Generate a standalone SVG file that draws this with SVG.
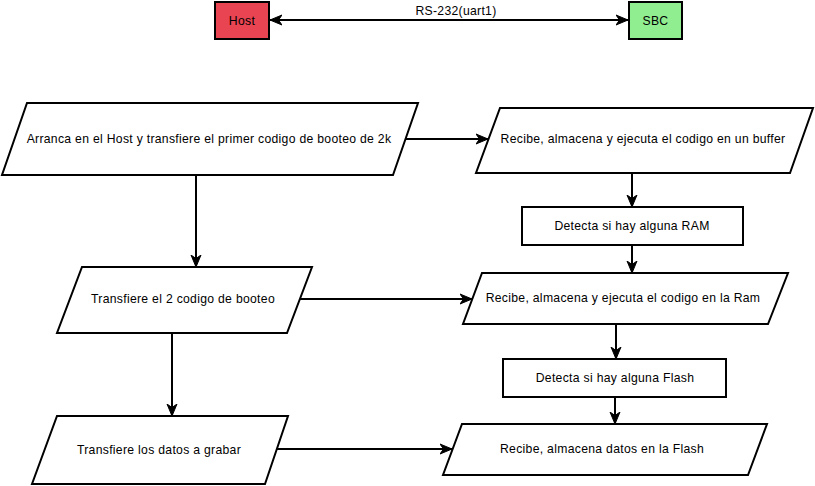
<svg xmlns="http://www.w3.org/2000/svg" width="815" height="486" viewBox="0 0 815 486">
<style>
  .shape { fill: #ffffff; stroke: #000000; stroke-width: 2; }
  .conn { fill: none; stroke: #000000; stroke-width: 2; }
  text { font-family: "Liberation Sans", Arial, sans-serif; font-size: 12.2px; letter-spacing: 0.3px; fill: #000000; text-anchor: middle; dominant-baseline: central; }
</style>
<defs>
  <marker id="arrowEnd" markerUnits="userSpaceOnUse" markerWidth="14" markerHeight="12" viewBox="0 0 14 12" refX="12" refY="6" orient="auto">
    <path d="M0,1 L12,6 L0,11 L3.5,6 Z" fill="#000000" stroke="#000000" stroke-width="1"/>
  </marker>
  <marker id="arrowStart" markerUnits="userSpaceOnUse" markerWidth="14" markerHeight="12" viewBox="0 0 14 12" refX="12" refY="6" orient="auto-start-reverse">
    <path d="M0,1 L12,6 L0,11 L3.5,6 Z" fill="#000000" stroke="#000000" stroke-width="1"/>
  </marker>
</defs>
<rect width="815" height="486" fill="#ffffff"/>

<g id="connectors">
  <line class="conn" x1="270" y1="20" x2="628" y2="20" marker-start="url(#arrowStart)" marker-end="url(#arrowEnd)"/>
  <line class="conn" x1="405" y1="139" x2="488" y2="139" marker-end="url(#arrowEnd)"/>
  <line class="conn" x1="196" y1="175" x2="196" y2="267" marker-end="url(#arrowEnd)"/>
  <line class="conn" x1="632" y1="173" x2="632" y2="207" marker-end="url(#arrowEnd)"/>
  <line class="conn" x1="632" y1="245" x2="632" y2="273" marker-end="url(#arrowEnd)"/>
  <line class="conn" x1="300" y1="299" x2="472" y2="299" marker-end="url(#arrowEnd)"/>
  <line class="conn" x1="616" y1="324" x2="616" y2="359" marker-end="url(#arrowEnd)"/>
  <line class="conn" x1="615" y1="397" x2="615" y2="424" marker-end="url(#arrowEnd)"/>
  <line class="conn" x1="172" y1="333" x2="172" y2="416" marker-end="url(#arrowEnd)"/>
  <line class="conn" x1="276" y1="449" x2="452" y2="449" marker-end="url(#arrowEnd)"/>
  <text x="456" y="11">RS-232(uart1)</text>
</g>

<g id="host">
  <rect x="215" y="2" width="54" height="37" fill="#e94452" stroke="#000000" stroke-width="2"/>
  <text x="242" y="20.5">Host</text>
</g>
<g id="sbc">
  <rect x="629" y="2" width="53" height="37" fill="#90ee90" stroke="#000000" stroke-width="2"/>
  <text x="655.5" y="20.5">SBC</text>
</g>

<g id="arranca">
  <polygon class="shape" points="27,103 418,103 393,175 2,175"/>
  <text x="209" y="139">Arranca en el Host y transfiere el primer codigo de booteo de 2k</text>
</g>
<g id="recibe-buffer">
  <polygon class="shape" points="500,108 813,108 790,173 476,173"/>
  <text x="643" y="139">Recibe, almacena y ejecuta el codigo en un buffer</text>
</g>
<g id="detecta-ram">
  <rect class="shape" x="522" y="207" width="221" height="38"/>
  <text x="632" y="226">Detecta si hay alguna RAM</text>
</g>
<g id="transfiere-2">
  <polygon class="shape" points="82,267 312,267 287,333 57,333"/>
  <text x="183" y="299">Transfiere el 2 codigo de booteo</text>
</g>
<g id="recibe-ram">
  <polygon class="shape" points="482,273 788,273 768,324 463,324"/>
  <text x="623" y="298">Recibe, almacena y ejecuta el codigo en la Ram</text>
</g>
<g id="detecta-flash">
  <rect class="shape" x="503" y="359" width="223" height="38"/>
  <text x="615" y="378">Detecta si hay alguna Flash</text>
</g>
<g id="transfiere-datos">
  <polygon class="shape" points="57,416 288,416 265,484 32,484"/>
  <text x="159" y="450">Transfiere los datos a grabar</text>
</g>
<g id="recibe-flash">
  <polygon class="shape" points="462,424 767,424 748,475 443,475"/>
  <text x="602" y="449">Recibe, almacena datos en la Flash</text>
</g>
</svg>
